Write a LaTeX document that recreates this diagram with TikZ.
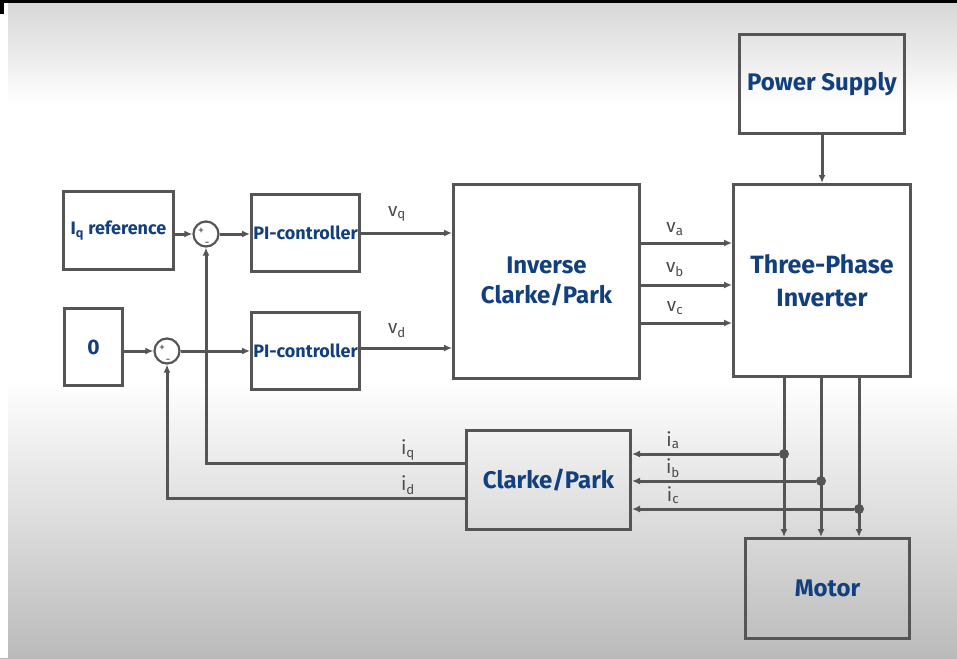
\documentclass[tikz,border=0pt]{standalone}
\usepackage{fontspec}
\setmainfont{Fira Sans}
\usetikzlibrary{arrows.meta,calc}
\definecolor{txtblue}{HTML}{123F7E}
\definecolor{linegray}{HTML}{555555}
\definecolor{labgray}{HTML}{4A4A4A}
\tikzset{
  blk/.style={draw=linegray, line width=3pt, rectangle, anchor=north west, inner sep=0pt,
    font=\bfseries\fontsize{24}{32}\selectfont, text=txtblue, align=center},
  smallblk/.style={blk, font=\bfseries\fontsize{18}{20}\selectfont},
  conn/.style={draw=linegray, line width=3pt, -{Latex[length=8pt,width=7pt]}},
  sumnode/.style={draw=linegray, line width=2.2pt, circle, minimum size=25pt, inner sep=0pt},
  sig/.style={text=labgray, font=\fontsize{19}{20}\selectfont, inner sep=0pt},
  pm/.style={text=labgray, font=\fontsize{12}{12}\selectfont, inner sep=0pt},
  dot/.style={fill=linegray, circle, minimum size=10pt, inner sep=0pt}
}
\begin{document}
\begin{tikzpicture}[x=1pt,y=-1pt]
% background
\useasboundingbox (0,0) rectangle (957,658);
\shade[top color=black!16, bottom color=white] (0,0) rectangle (957,105);
\fill[white] (0,104) rectangle (957,381);
\shade[top color=white, middle color=black!8, bottom color=black!27] (0,380) rectangle (957,658);
\fill[white] (0,0) rectangle (8,658);
\fill[black] (0,0) rectangle (957,3);
\fill[black] (0,0) rectangle (4,14);

% blocks
\node[blk, minimum width=165pt, minimum height=99pt] (ps) at (738,33) {Power Supply};
\node[blk, minimum width=177pt, minimum height=192pt, font=\bfseries\fontsize{25}{33}\selectfont] (tpi) at (732,183) {Three-Phase\\Inverter};
\node[smallblk, minimum width=110pt, minimum height=78pt] (iqref) at (62,190) {I\textsubscript{q} reference};
\node[blk, minimum width=58pt, minimum height=77pt, font=\bfseries\fontsize{21}{22}\selectfont] (zero) at (63,307) {0};
\node[smallblk, minimum width=108pt, minimum height=77pt] (pi1) at (250,193) {PI-controller};
\node[smallblk, minimum width=108pt, minimum height=77pt] (pi2) at (250,311) {PI-controller};
\node[blk, minimum width=186pt, minimum height=194pt, font=\bfseries\fontsize{24}{30}\selectfont] (inv) at (452,183) {Inverse\\Clarke/Park};
\node[blk, minimum width=164pt, minimum height=99pt] (cp) at (465,429) {Clarke/Park};
\node[blk, minimum width=164pt, minimum height=100pt] (motor) at (744,537) {Motor};

% summing junctions
\node[sumnode] (s1) at (206,234) {};
\node[sumnode] (s2) at (167,351) {};
\node[pm] (s1p) at (201,231) {+};
\node[pm] (s1m) at (207,244) {-};
\node[pm] (s2p) at (162,348) {+};
\node[pm] (s2m) at (168,361) {-};

% forward path
\draw[conn] (iqref.east |- s1.west) -- (s1.west);
\draw[conn] (s1.east) -- (s1.east -| pi1.west);
\draw[conn] (s2.west -| zero.east) -- (s2.west);
\draw[conn] (s2.east) -- (s2.east -| pi2.west);
\draw[conn] (pi1.east |- 0,233) -- (inv.west |- 0,233);
\draw[conn] (pi2.east |- 0,348) -- (inv.west |- 0,348);
\draw[conn] (inv.east |- 0,243) -- (tpi.west |- 0,243);
\draw[conn] (inv.east |- 0,285) -- (tpi.west |- 0,285);
\draw[conn] (inv.east |- 0,323) -- (tpi.west |- 0,323);
\draw[conn] (ps.south) -- (tpi.north);

% inverter to motor
\coordinate (pa) at (784,454);
\coordinate (pb) at (821,481);
\coordinate (pc) at (859,509);
\draw[conn] (tpi.south -| pa) -- (motor.north -| pa);
\draw[conn] (tpi.south -| pb) -- (motor.north -| pb);
\draw[conn] (tpi.south -| pc) -- (motor.north -| pc);
\node[dot] (da) at (pa) {};
\node[dot] (db) at (pb) {};
\node[dot] (dc) at (pc) {};

% current feedback
\draw[conn] (da) -- (da -| cp.east);
\draw[conn] (db) -- (db -| cp.east);
\draw[conn] (dc) -- (dc -| cp.east);
\draw[conn] (cp.west |- 0,463) -- (s1 |- 0,463) -- (s1.south);
\draw[conn] (cp.west |- 0,498) -- (s2 |- 0,498) -- (s2.south);

% signal labels
\node[sig] (lvq) at (397,214) {v\textsubscript{q}};
\node[sig] (lvd) at (397,331) {v\textsubscript{d}};
\node[sig] (lva) at (675,229) {v\textsubscript{a}};
\node[sig] (lvb) at (675,270) {v\textsubscript{b}};
\node[sig] (lvc) at (675,308) {v\textsubscript{c}};
\node[sig] (lia) at (673,440) {i\textsubscript{a}};
\node[sig] (lib) at (673,468) {i\textsubscript{b}};
\node[sig] (lic) at (673,495) {i\textsubscript{c}};
\node[sig] (liq) at (408,450) {i\textsubscript{q}};
\node[sig] (lid) at (408,485) {i\textsubscript{d}};
\end{tikzpicture}
\end{document}
